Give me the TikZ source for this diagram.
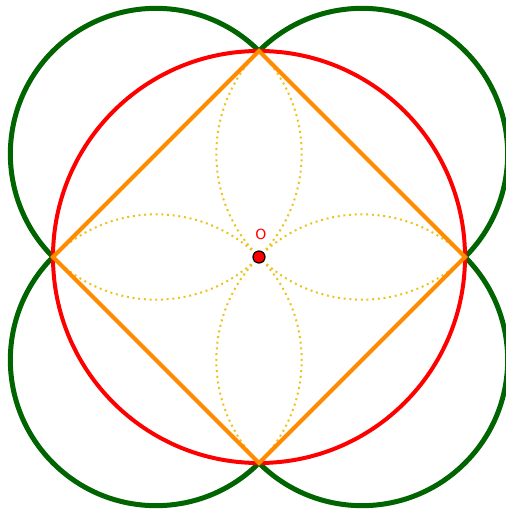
\documentclass[tikz,border=0pt]{standalone}
\usepackage{fontspec}
\setmainfont{DejaVu Sans}
\begin{document}
\begin{tikzpicture}[x=1pt,y=-1pt,
  greenarc/.style={draw={rgb,255:red,0;green,100;blue,0}, line width=5pt},
  redcirc/.style={draw={rgb,255:red,255;green,0;blue,0}, line width=4pt},
  sq/.style={draw={rgb,255:red,255;green,140;blue,0}, line width=4pt, line join=miter},
  dots/.style={draw={rgb,255:red,235;green,195;blue,30}, line width=2pt, dash pattern=on 2pt off 3.7pt},
  pt/.style={circle, fill=red, draw=black, line width=1.2pt, minimum size=12pt, inner sep=0pt}]
\useasboundingbox (0,0) rectangle (505,510);
\def\R{206}
\def\r{145.66}
\coordinate (O) at (259,257);
\coordinate (T) at (259,51);
\coordinate (B) at (259,463);
\coordinate (L) at (53,257);
\coordinate (Rt) at (465,257);
% green circles: outer halves
\draw[greenarc] (T) arc[start angle=-45, end angle=-225, radius=\r];
\draw[greenarc] (T) arc[start angle=-135, end angle=45, radius=\r];
\draw[greenarc] (L) arc[start angle=225, end angle=45, radius=\r];
\draw[greenarc] (Rt) arc[start angle=-45, end angle=135, radius=\r];
% red circle
\draw[redcirc] (O) circle[radius=\R];
% dotted inner halves
\draw[dots] (T) arc[start angle=-45, end angle=135, radius=\r];
\draw[dots] (T) arc[start angle=225, end angle=45, radius=\r];
\draw[dots] (L) arc[start angle=-135, end angle=45, radius=\r];
\draw[dots] (Rt) arc[start angle=-45, end angle=-225, radius=\r];
% square
\draw[sq] (T) -- (Rt) -- (B) -- (L) -- cycle;
% point
\node[pt] (Opt) at (O) {};
\node[text=red, font=\fontsize{14}{16}\selectfont, inner sep=0pt] (Olab) at (261,234) {O};
\end{tikzpicture}
\end{document}
